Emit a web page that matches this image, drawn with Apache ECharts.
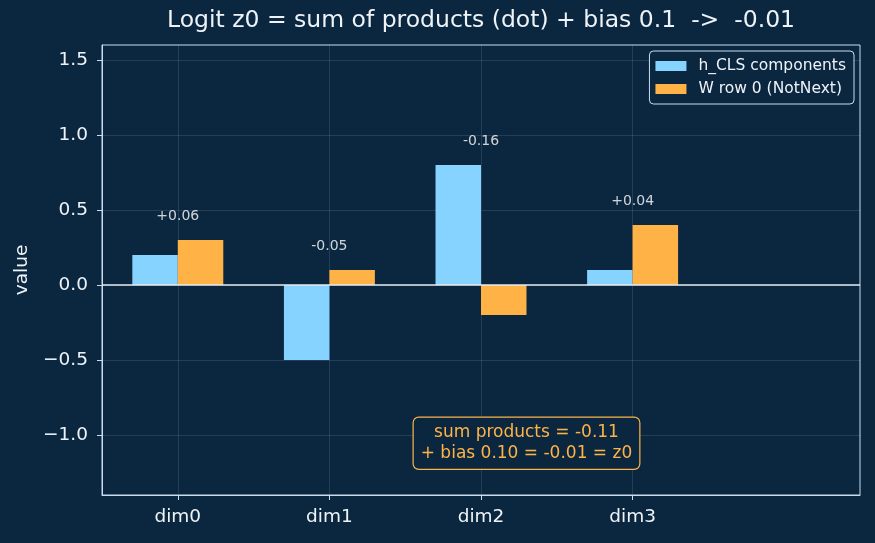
<!DOCTYPE html>
<html><head><meta charset="utf-8">
<script src="https://cdn.jsdelivr.net/npm/echarts@6/dist/echarts.min.js"></script>
<style>html,body{margin:0;padding:0;background:#0b2740}#c{width:875px;height:543px}</style>
</head><body><div id="c"></div>
<script>
const categories = ['dim0', 'dim1', 'dim2', 'dim3'];
const hCLS = [0.2, -0.5, 0.8, 0.1];
const wRow0 = [0.3, 0.1, -0.2, 0.4];
const bias = 0.1;
const yTicks = [-1.0, -0.5, 0.0, 0.5, 1.0, 1.5];
const seriesNames = ['h_CLS components', 'W row 0 (NotNext)'];
const titleText = 'Logit z0 = sum of products (dot) + bias 0.1  ->  -0.01';

const FONT = 'DejaVu Sans';
const BG = '#0b2740';
const SPINE = '#c9ddef';
const TXT = '#eef3f8';
const xCats = categories.concat(['']);
const products = hCLS.map((h, i) => h * wRow0[i]);
const sumP = products.reduce((a, b) => a + b, 0);
const z0 = sumP + bias;
function signed(v) { return (v >= 0 ? '+' : '-') + Math.abs(v).toFixed(2); }
function plain(v) { return (v < -0.005 ? '-' : '') + Math.abs(v).toFixed(2); }
const labelData = categories.map((c, i) => [c, Math.max(hCLS[i], wRow0[i], 0) + 0.1, signed(products[i])]);
const annText = 'sum products = ' + plain(sumP) + '\n+ bias ' + bias.toFixed(2) + ' = ' + plain(z0) + ' = z0';

const chart = echarts.init(document.getElementById('c'));
const G = { left: 102, right: 15, top: 45, bottom: 48 };
const plotW = 875 - G.left - G.right, plotH = 543 - G.top - G.bottom;

chart.setOption({
  backgroundColor: BG,
  animation: false,
  textStyle: { fontFamily: FONT },
  title: {
    text: titleText, left: G.left + plotW / 2, top: 9, textAlign: 'center', padding: 0,
    textStyle: { fontFamily: FONT, fontSize: 23.5, fontWeight: 'normal', color: TXT }
  },
  grid: { left: G.left, right: G.right, top: G.top, bottom: G.bottom, show: true, borderColor: SPINE, borderWidth: 1, backgroundColor: BG },
  legend: {
    data: seriesNames, orient: 'vertical', right: 21, top: 51, icon: 'rect',
    itemWidth: 31, itemHeight: 10, itemGap: 7, padding: [7, 8, 7, 6],
    borderColor: SPINE, borderWidth: 1, borderRadius: 4, backgroundColor: BG,
    selectedMode: false,
    textStyle: { color: TXT, fontSize: 15.5, fontFamily: FONT, padding: [0, 0, 0, 7] }
  },
  xAxis: {
    type: 'category', data: xCats, boundaryGap: true,
    axisLine: { show: true, onZero: false, lineStyle: { color: SPINE, width: 1 } },
    axisTick: { show: true, alignWithLabel: true, length: 5, interval: (i, v) => v !== '', lineStyle: { color: SPINE } },
    axisLabel: { color: TXT, fontSize: 18.5, margin: 13, interval: 0, fontFamily: FONT },
    splitLine: { show: false }
  },
  yAxis: {
    type: 'value', min: -1.4, max: 1.6,
    name: 'value', nameLocation: 'middle', nameGap: 68,
    nameTextStyle: { color: TXT, fontSize: 18.5, fontFamily: FONT },
    axisLine: { show: true, lineStyle: { color: SPINE, width: 1 } },
    axisTick: { show: true, length: 5, customValues: yTicks, lineStyle: { color: SPINE } },
    axisLabel: { color: TXT, fontSize: 18.5, margin: 14, fontFamily: FONT, customValues: yTicks,
      formatter: v => (v < 0 ? '\u2212' : '') + Math.abs(v).toFixed(1) },
    splitLine: { show: false }
  },
  series: [
    {
      type: 'bar', name: seriesNames[0], data: hCLS, barWidth: '30%', barGap: '0%',
      itemStyle: { color: '#87d3ff' }, z: 2
    },
    {
      type: 'bar', name: seriesNames[1], data: wRow0, barWidth: '30%', barGap: '0%',
      itemStyle: { color: '#ffb347' }, z: 2,
      markLine: {
        silent: true, symbol: ['none', 'none'], z: 6, label: { show: false },
        lineStyle: { color: '#e4ebf1', width: 1.5, type: 'solid' },
        data: [{ yAxis: 0 }]
      }
    },
    {
      type: 'scatter', name: 'labels', data: labelData, symbolSize: 0, z: 7, silent: true,
      label: { show: true, position: 'top', distance: 2, color: '#ffffff', fontSize: 14, fontFamily: FONT,
        formatter: p => p.data[2] },
      markLine: {
        silent: true, symbol: ['none', 'none'], z: 1, label: { show: false },
        lineStyle: { color: 'rgba(255,255,255,0.11)', width: 1, type: 'solid' },
        data: yTicks.map(v => ({ yAxis: v })).concat(categories.map(c => ({ xAxis: c })))
      }
    }
  ],
  graphic: [{
    type: 'text', x: G.left + 0.56 * plotW, y: G.top + plotH * 0.885, z: 10, silent: true,
    style: {
      text: annText, font: '17px "DejaVu Sans"', fill: '#ffb347',
      align: 'center', verticalAlign: 'middle', textAlign: 'center', textVerticalAlign: 'middle',
      lineHeight: 21, backgroundColor: BG, borderColor: '#ffb347', borderWidth: 1.2, borderRadius: 5,
      padding: [5, 7, 4, 7]
    }
  }]
});
</script>
</body></html>
